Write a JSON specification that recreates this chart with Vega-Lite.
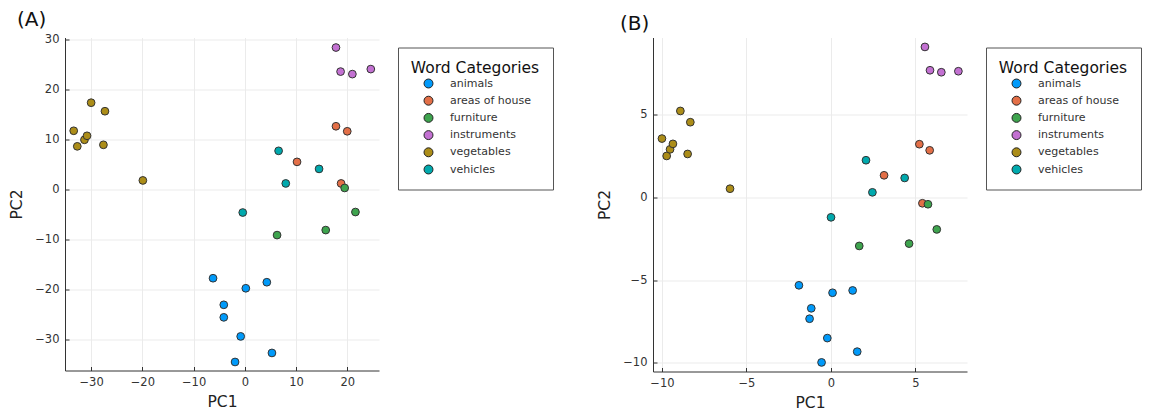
{
  "$schema": "https://vega.github.io/schema/vega-lite/v6.json",
  "padding": {"left": 9, "top": 9.5, "right": 0, "bottom": 0},
  "background": "white",
  "datasets": {
    "a": [
      {"category": "vegetables", "PC1": -33.4, "PC2": 11.7},
      {"category": "vegetables", "PC1": -32.7, "PC2": 8.6},
      {"category": "vegetables", "PC1": -31.3, "PC2": 9.9},
      {"category": "vegetables", "PC1": -30.8, "PC2": 10.7},
      {"category": "vegetables", "PC1": -30.0, "PC2": 17.3},
      {"category": "vegetables", "PC1": -27.3, "PC2": 15.6},
      {"category": "vegetables", "PC1": -27.6, "PC2": 8.9},
      {"category": "vegetables", "PC1": -19.9, "PC2": 1.8},
      {"category": "instruments", "PC1": 17.8, "PC2": 28.3},
      {"category": "instruments", "PC1": 18.7, "PC2": 23.5},
      {"category": "instruments", "PC1": 21.0, "PC2": 23.0},
      {"category": "instruments", "PC1": 24.6, "PC2": 24.0},
      {"category": "areas of house", "PC1": 17.8, "PC2": 12.6},
      {"category": "areas of house", "PC1": 20.0, "PC2": 11.6},
      {"category": "areas of house", "PC1": 10.2, "PC2": 5.5},
      {"category": "areas of house", "PC1": 18.8, "PC2": 1.2},
      {"category": "vehicles", "PC1": 6.6, "PC2": 7.7},
      {"category": "vehicles", "PC1": 14.5, "PC2": 4.1},
      {"category": "vehicles", "PC1": 8.0, "PC2": 1.2},
      {"category": "vehicles", "PC1": -0.4, "PC2": -4.6},
      {"category": "furniture", "PC1": 19.5, "PC2": 0.3},
      {"category": "furniture", "PC1": 21.6, "PC2": -4.5},
      {"category": "furniture", "PC1": 15.8, "PC2": -8.1},
      {"category": "furniture", "PC1": 6.3, "PC2": -9.1},
      {"category": "animals", "PC1": -6.2, "PC2": -17.7},
      {"category": "animals", "PC1": 0.2, "PC2": -19.7},
      {"category": "animals", "PC1": 4.3, "PC2": -18.5},
      {"category": "animals", "PC1": -4.1, "PC2": -23.0},
      {"category": "animals", "PC1": -4.1, "PC2": -25.5},
      {"category": "animals", "PC1": -0.8, "PC2": -29.3},
      {"category": "animals", "PC1": 5.3, "PC2": -32.6},
      {"category": "animals", "PC1": -1.9, "PC2": -34.4}
    ],
    "b": [
      {"category": "vegetables", "PC1": -10.0, "PC2": 3.55},
      {"category": "vegetables", "PC1": -9.72, "PC2": 2.5},
      {"category": "vegetables", "PC1": -9.52, "PC2": 2.9},
      {"category": "vegetables", "PC1": -9.35, "PC2": 3.23},
      {"category": "vegetables", "PC1": -8.91, "PC2": 5.22},
      {"category": "vegetables", "PC1": -8.32, "PC2": 4.54},
      {"category": "vegetables", "PC1": -8.48, "PC2": 2.62},
      {"category": "vegetables", "PC1": -5.97, "PC2": 0.52},
      {"category": "instruments", "PC1": 5.57, "PC2": 9.09},
      {"category": "instruments", "PC1": 5.87, "PC2": 7.68},
      {"category": "instruments", "PC1": 6.54, "PC2": 7.56},
      {"category": "instruments", "PC1": 7.55, "PC2": 7.62},
      {"category": "areas of house", "PC1": 5.24, "PC2": 3.21},
      {"category": "areas of house", "PC1": 5.85, "PC2": 2.84},
      {"category": "areas of house", "PC1": 3.15, "PC2": 1.33},
      {"category": "areas of house", "PC1": 5.42, "PC2": -0.36},
      {"category": "vehicles", "PC1": 2.08, "PC2": 2.24},
      {"category": "vehicles", "PC1": 4.37, "PC2": 1.17},
      {"category": "vehicles", "PC1": 2.46, "PC2": 0.3},
      {"category": "vehicles", "PC1": 0.01, "PC2": -1.21},
      {"category": "furniture", "PC1": 5.75, "PC2": -0.42},
      {"category": "furniture", "PC1": 6.27, "PC2": -1.94},
      {"category": "furniture", "PC1": 4.63, "PC2": -2.8},
      {"category": "furniture", "PC1": 1.68, "PC2": -2.94},
      {"category": "animals", "PC1": -1.89, "PC2": -5.32},
      {"category": "animals", "PC1": 0.1, "PC2": -5.77},
      {"category": "animals", "PC1": 1.29, "PC2": -5.63},
      {"category": "animals", "PC1": -1.16, "PC2": -6.71},
      {"category": "animals", "PC1": -1.26, "PC2": -7.34},
      {"category": "animals", "PC1": -0.21, "PC2": -8.51},
      {"category": "animals", "PC1": 1.56, "PC2": -9.33},
      {"category": "animals", "PC1": -0.55, "PC2": -9.98}
    ]
  },
  "config": {
    "font": "DejaVu Sans",
    "view": {"stroke": null},
    "axis": {
      "labelFont": "DejaVu Sans",
      "labelFontSize": 11.5,
      "labelColor": "#333333",
      "titleFont": "DejaVu Sans",
      "titleFontSize": 15.5,
      "titleFontWeight": "normal",
      "titleColor": "#222222",
      "domainColor": "#333333",
      "tickColor": "#333333",
      "tickSize": -4,
      "labelPadding": 10,
      "gridColor": "#ebebeb",
      "gridWidth": 1
    },
    "axisY": {"titlePadding": 10},
    "axisX": {"titlePadding": 6},
    "legend": {
      "orient": "none",
      "legendX": 333,
      "legendY": 10,
      "strokeColor": "#555555",
      "fillColor": "white",
      "padding": 13,
      "titleFont": "DejaVu Sans",
      "titleFontSize": 15.5,
      "titleFontWeight": "normal",
      "titleColor": "#111111",
      "titleAnchor": "middle",
      "titlePadding": 2,
      "labelFont": "DejaVu Sans",
      "labelFontSize": 11,
      "labelColor": "#333333",
      "labelOffset": 16,
      "rowPadding": 4.2,
      "symbolSize": 80,
      "symbolStrokeColor": "#222222",
      "symbolStrokeWidth": 1,
      "symbolType": "circle",
      "symbolOffset": 4
    },
    "title": {"font": "DejaVu Sans", "fontSize": 20, "fontWeight": "normal", "color": "#111111"}
  },
  "hconcat": [
    {
      "width": 314,
      "height": 333,
      "title": {"text": "(A)", "anchor": "start", "frame": "group", "dx": -48, "offset": 3.5},
      "data": {"name": "a"},
      "mark": {"type": "point", "filled": true, "size": 60, "stroke": "#333333", "strokeWidth": 1, "opacity": 1},
      "encoding": {
        "x": {"field": "PC1", "type": "quantitative", "scale": {"domain": [-35.1, 26.2], "nice": false, "zero": false}, "axis": {"values": [-30, -20, -10, 0, 10, 20], "title": "PC1"}},
        "y": {"field": "PC2", "type": "quantitative", "scale": {"domain": [-36.1, 30.3], "nice": false, "zero": false}, "axis": {"values": [-30, -20, -10, 0, 10, 20, 30], "title": "PC2"}},
        "color": {"field": "category", "type": "nominal", "title": "Word Categories",
          "scale": {"domain": ["animals", "areas of house", "furniture", "instruments", "vegetables", "vehicles"], "range": ["#009AFA", "#E36F47", "#3EA44E", "#C371D2", "#AC8D18", "#00A9AD"]}}
      }
    },
    {
      "width": 314,
      "height": 334,
      "title": {"text": "(B)", "anchor": "start", "frame": "group", "dx": -33, "offset": 3.5},
      "data": {"name": "b"},
      "mark": {"type": "point", "filled": true, "size": 60, "stroke": "#333333", "strokeWidth": 1, "opacity": 1},
      "encoding": {
        "x": {"field": "PC1", "type": "quantitative", "scale": {"domain": [-10.53, 8.06], "nice": false, "zero": false}, "axis": {"values": [-10, -5, 0, 5], "title": "PC1"}},
        "y": {"field": "PC2", "type": "quantitative", "scale": {"domain": [-10.53, 9.66], "nice": false, "zero": false}, "axis": {"values": [-10, -5, 0, 5], "title": "PC2"}},
        "color": {"field": "category", "type": "nominal", "title": "Word Categories",
          "scale": {"domain": ["animals", "areas of house", "furniture", "instruments", "vegetables", "vehicles"], "range": ["#009AFA", "#E36F47", "#3EA44E", "#C371D2", "#AC8D18", "#00A9AD"]}}
      }
    }
  ],
  "spacing": 43,
  "resolve": {"scale": {"color": "independent"}, "legend": {"color": "independent"}}
}
